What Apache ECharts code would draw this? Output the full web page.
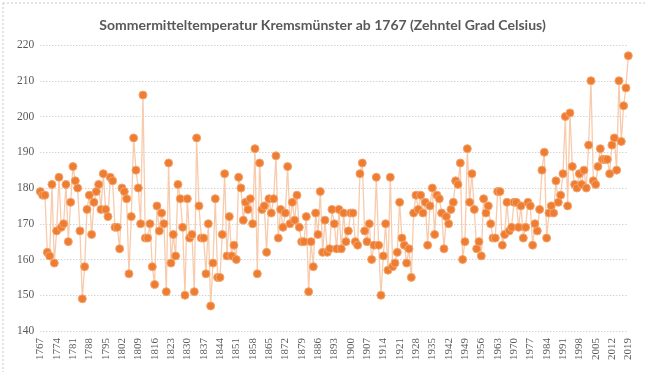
<!DOCTYPE html>
<html>
<head>
<meta charset="utf-8">
<script src="https://cdn.jsdelivr.net/npm/echarts@6/dist/echarts.min.js"></script>
<style>html,body{margin:0;padding:0;background:#fff;}#c{width:645px;height:372px;}</style>
</head>
<body>
<div id="c"></div>
<script>
const firstYear = 1767;
const lastYear = 2019;
const titleText = 'Sommermitteltemperatur Kremsmünster ab 1767 (Zehntel Grad Celsius)';
const values = [
179,178,178,162,161,181,159,168,183,169,
170,181,165,176,186,182,180,168,149,158,
174,178,167,176,179,181,174,184,174,172,
183,182,169,169,163,180,179,177,156,172,
194,185,180,170,206,166,166,170,158,153,
175,168,173,170,151,187,159,167,161,181,
177,169,150,177,166,167,151,194,175,166,
166,156,170,147,159,177,155,155,167,184,
161,172,161,164,160,183,180,171,176,174,
177,170,191,156,187,174,175,162,177,173,
177,189,166,174,169,173,186,170,176,171,
178,169,165,165,172,151,165,158,173,167,
179,162,171,162,163,174,170,163,174,163,
173,165,168,173,173,165,164,184,187,168,
165,170,160,164,183,164,150,161,170,157,
183,158,159,162,176,166,164,159,163,155,
173,178,174,178,173,176,164,175,180,167,
178,177,173,163,172,170,174,176,182,181,
187,160,165,191,176,184,174,163,165,161,
177,173,175,170,166,166,179,179,164,167,
176,168,169,176,176,169,175,166,169,176,
175,164,170,168,174,185,190,166,173,175,
173,182,176,178,184,200,175,201,186,181,
180,184,181,185,180,192,210,182,181,186,
191,188,188,188,184,192,194,185,210,193,
203,208,217
];
const years = [];
for (let y = firstYear; y <= lastYear; y++) years.push(String(y));
const yMin = 140, yMax = 220, yStep = 10;

const chart = echarts.init(document.getElementById('c'), null, {renderer: 'canvas'});
chart.setOption({
  animation: false,
  backgroundColor: '#ffffff',
  title: {
    text: titleText,
    left: 'center',
    top: 13,
    textStyle: {fontFamily: 'Lato', fontSize: 14, fontWeight: 'bold', color: '#595959'}
  },
  graphic: [{
    type: 'rect', left: 0.5, top: 0.5,
    shape: {width: 643, height: 370},
    style: {fill: 'none', stroke: '#c8c8c8', lineWidth: 1, lineDash: [2, 2]}
  }],
  grid: {left: 40.3, right: 16.7, top: 45, bottom: 41, containLabel: false},
  xAxis: {
    type: 'category',
    data: years,
    boundaryGap: false,
    axisLine: {show: false},
    axisTick: {show: false},
    axisLabel: {
      interval: 6, rotate: 90, margin: 7,
      fontFamily: 'Liberation Serif', fontSize: 11, color: '#595959'
    },
    splitLine: {show: false}
  },
  yAxis: {
    type: 'value', min: yMin, max: yMax, interval: yStep,
    axisLine: {show: false},
    axisTick: {show: false},
    axisLabel: {margin: 6, fontFamily: 'Liberation Serif', fontSize: 11.5, color: '#595959'},
    splitLine: {lineStyle: {color: '#c0c0c0', type: [1, 2], width: 1}}
  },
  series: [{
    type: 'line',
    data: values,
    symbol: 'circle',
    symbolSize: 8,
    showAllSymbol: true,
    lineStyle: {color: '#F8CBAD', width: 1.3},
    itemStyle: {color: '#EE7D31', borderColor: '#F4A46E', borderWidth: 1}
  }]
});
</script>
</body>
</html>
